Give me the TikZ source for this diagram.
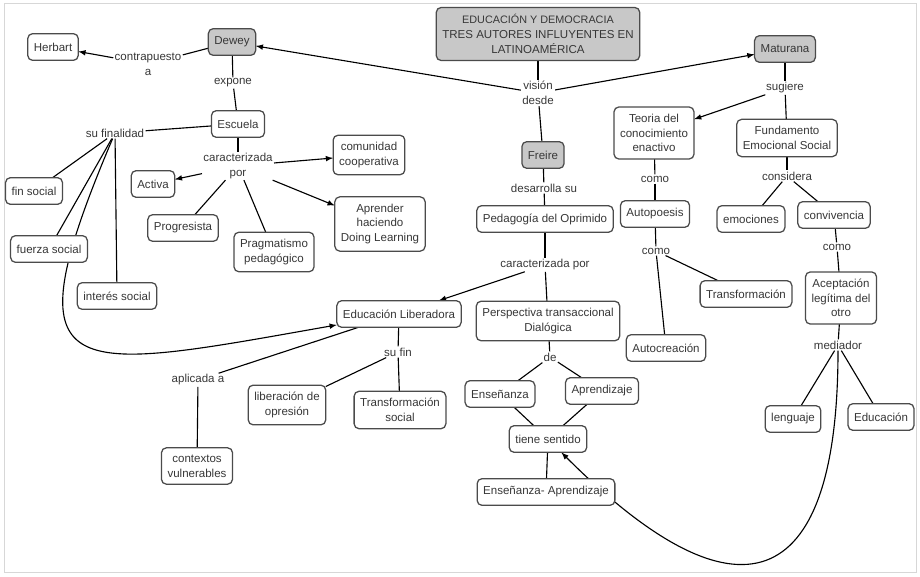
\documentclass[tikz,border=0pt]{standalone}
\usepackage{fontspec}
\setmainfont{Liberation Sans}
\usepackage{tkz-graph}
\pgfdeclarelayer{background}
\pgfsetlayers{background,main}
\definecolor{boxgray}{RGB}{200,200,200}
\definecolor{inkgray}{RGB}{55,55,55}
\definecolor{edgegray}{RGB}{75,75,75}
\definecolor{framegray}{RGB}{215,215,215}

\begin{document}
\begin{tikzpicture}[x = 0.025cm, y = -0.025cm, >=latex,
                    color = edgegray, text = inkgray, line width = 0.6pt,
                    font = \fontsize{8.2}{10.5}\selectfont]
\useasboundingbox (0,0) rectangle (920,577);
\draw[framegray] (4,3) rectangle (916,572);
% gray concepts
\tikzstyle{VertexStyle}=[shape = rectangle,
                         rounded corners = 3.5pt,
                         fill = boxgray,
                         line width = 0.9pt,
                         inner xsep = 4.3pt,
                         inner ysep = 5pt,
                         minimum height = 19pt,
                         align = center,
                         draw]
\Vertex[x = 538, y = 34, L = {\fontsize{7.7}{10.5}\selectfont EDUCACIÓN Y DEMOCRACIA\\TRES AUTORES INFLUYENTES EN\\LATINOAMÉRICA}]{title}
\Vertex[x = 232, y = 42, L = {Dewey}]{dewey}
\Vertex[x = 785, y = 49, L = {Maturana}]{matu}
\Vertex[x = 543, y = 155, L = {Freire}]{freire}
% white concepts
\tikzstyle{VertexStyle}=[shape = rectangle,
                         rounded corners = 3.5pt,
                         fill = white,
                         line width = 0.9pt,
                         inner xsep = 4.3pt,
                         inner ysep = 5pt,
                         minimum height = 19pt,
                         align = center,
                         draw]
\Vertex[x = 53, y = 47, L = {Herbart}]{herb}
\Vertex[x = 238, y = 124, L = {Escuela}]{esc}
\Vertex[x = 369, y = 155, L = {comunidad\\cooperativa}]{comu}
\Vertex[x = 153, y = 184, L = {Activa}]{activa}
\Vertex[x = 34, y = 191, L = {fin social}]{fin}
\Vertex[x = 183, y = 228, L = {Progresista}]{progre}
\Vertex[x = 274, y = 252, L = {Pragmatismo\\pedagógico}]{pragma}
\Vertex[x = 380, y = 224, L = {Aprender\\haciendo\\Doing Learning}]{aprender}
\Vertex[x = 49, y = 249, L = {fuerza social}]{fuerza}
\Vertex[x = 117, y = 296, L = {interés social}]{interes}
\Vertex[x = 399, y = 314, L = {Educación Liberadora}]{edlib}
\Vertex[x = 287, y = 405, L = {liberación de\\opresión}]{libera}
\Vertex[x = 400, y = 410, L = {Transformación\\social}]{transoc}
\Vertex[x = 197, y = 466, L = {contextos\\vulnerables}]{contex}
\Vertex[x = 545, y = 219, L = {Pedagogía del Oprimido}]{pedag}
\Vertex[x = 548, y = 321, L = {Perspectiva transaccional\\Dialógica}]{persp}
\Vertex[x = 500, y = 394, L = {Enseñanza}]{ense}
\Vertex[x = 602, y = 391, L = {Aprendizaje}]{apren}
\Vertex[x = 548, y = 439, L = {tiene sentido}]{tiene}
\Vertex[x = 546, y = 492, L = {Enseñanza- Aprendizaje}]{ensapr}
\Vertex[x = 654, y = 133, L = {Teoria del\\conocimiento\\enactivo}]{teoria}
\Vertex[x = 655, y = 214, L = {Autopoesis}]{autop}
\Vertex[x = 746, y = 294, L = {Transformación}]{transf}
\Vertex[x = 666, y = 348, L = {Autocreación}]{autocr}
\Vertex[x = 787, y = 138, L = {Fundamento\\Emocional Social}]{fund}
\Vertex[x = 751, y = 219, L = {emociones}]{emoc}
\Vertex[x = 834, y = 215, L = {convivencia}]{conviv}
\Vertex[x = 841, y = 298, L = {Aceptación\\legítima del\\otro}]{acept}
\Vertex[x = 793, y = 419, L = {lenguaje}]{leng}
\Vertex[x = 881, y = 417, L = {Educación}]{educ}
% linking phrases
\tikzstyle{VertexStyle}=[shape = rectangle,
                         inner sep = 1pt,
                         align = center]
\Vertex[x = 148, y = 64, L = {contrapuesto\\a}]{lContra}
\Vertex[x = 233, y = 83, L = {expone}]{lExpone}
\Vertex[x = 115, y = 133, L = {su finalidad}]{lFinal}
\Vertex[x = 238, y = 166, L = {caracterizada\\por}]{lCarac}
\Vertex[x = 538, y = 93, L = {visión\\desde}]{lVision}
\Vertex[x = 544, y = 188, L = {desarrolla su}]{lDesarr}
\Vertex[x = 545, y = 265, L = {caracterizada por}]{lCaracF}
\Vertex[x = 398, y = 352, L = {su fin}]{lSufin}
\Vertex[x = 198, y = 380, L = {aplicada a}]{lAplic}
\Vertex[x = 550, y = 357, L = {de}]{lDe}
\Vertex[x = 655, y = 179, L = {como}]{lComo1}
\Vertex[x = 656, y = 251, L = {como}]{lComo2}
\Vertex[x = 785, y = 88, L = {sugiere}]{lSugiere}
\Vertex[x = 787, y = 176, L = {considera}]{lConsid}
\Vertex[x = 837, y = 247, L = {como}]{lComo3}
\Vertex[x = 838, y = 345, L = {mediador}]{lMediad}
\begin{pgfonlayer}{background}
% Dewey
\tikzstyle{EdgeStyle}=[]
\Edge[](dewey)(lContra)
\tikzstyle{EdgeStyle}=[->]
\Edge[](lContra)(herb)
\tikzstyle{EdgeStyle}=[]
\Edge[](dewey)(lExpone)
\tikzstyle{EdgeStyle}=[]
\Edge[](lExpone)(esc)
\tikzstyle{EdgeStyle}=[]
\Edge[](esc)(lFinal)
\tikzstyle{EdgeStyle}=[]
\Edge[](lFinal)(fin)
\tikzstyle{EdgeStyle}=[]
\Edge[](lFinal)(fuerza)
\tikzstyle{EdgeStyle}=[]
\Edge[](lFinal)(interes)
\tikzstyle{EdgeStyle}=[->, out = -113, in = 190, looseness = 2.4]
\Edge[](lFinal)(edlib)
\tikzstyle{EdgeStyle}=[]
\Edge[](esc)(lCarac)
\tikzstyle{EdgeStyle}=[->]
\Edge[](lCarac)(comu)
\tikzstyle{EdgeStyle}=[->]
\Edge[](lCarac)(activa)
\tikzstyle{EdgeStyle}=[]
\Edge[](lCarac)(progre)
\tikzstyle{EdgeStyle}=[]
\Edge[](lCarac)(pragma)
\tikzstyle{EdgeStyle}=[->]
\Edge[](lCarac)(aprender)
% title
\tikzstyle{EdgeStyle}=[]
\Edge[](title)(lVision)
\tikzstyle{EdgeStyle}=[->]
\Edge[](lVision)(dewey)
\tikzstyle{EdgeStyle}=[->]
\Edge[](lVision)(matu)
\tikzstyle{EdgeStyle}=[]
\Edge[](lVision)(freire)
% Freire
\tikzstyle{EdgeStyle}=[]
\Edge[](freire)(lDesarr)
\tikzstyle{EdgeStyle}=[]
\Edge[](lDesarr)(pedag)
\tikzstyle{EdgeStyle}=[]
\Edge[](pedag)(lCaracF)
\tikzstyle{EdgeStyle}=[->]
\Edge[](lCaracF)(edlib)
\tikzstyle{EdgeStyle}=[]
\Edge[](lCaracF)(persp)
\tikzstyle{EdgeStyle}=[]
\Edge[](edlib)(lSufin)
\tikzstyle{EdgeStyle}=[]
\Edge[](lSufin)(libera)
\tikzstyle{EdgeStyle}=[]
\Edge[](lSufin)(transoc)
\tikzstyle{EdgeStyle}=[]
\Edge[](edlib)(lAplic)
\tikzstyle{EdgeStyle}=[]
\Edge[](lAplic)(contex)
\tikzstyle{EdgeStyle}=[]
\Edge[](persp)(lDe)
\tikzstyle{EdgeStyle}=[]
\Edge[](lDe)(ense)
\tikzstyle{EdgeStyle}=[]
\Edge[](lDe)(apren)
\tikzstyle{EdgeStyle}=[]
\Edge[](ense)(tiene)
\tikzstyle{EdgeStyle}=[]
\Edge[](apren)(tiene)
\tikzstyle{EdgeStyle}=[]
\Edge[](tiene)(ensapr)
% Maturana
\tikzstyle{EdgeStyle}=[]
\Edge[](matu)(lSugiere)
\tikzstyle{EdgeStyle}=[->]
\Edge[](lSugiere)(teoria)
\tikzstyle{EdgeStyle}=[]
\Edge[](lSugiere)(fund)
\tikzstyle{EdgeStyle}=[]
\Edge[](teoria)(lComo1)
\tikzstyle{EdgeStyle}=[]
\Edge[](lComo1)(autop)
\tikzstyle{EdgeStyle}=[]
\Edge[](autop)(lComo2)
\tikzstyle{EdgeStyle}=[]
\Edge[](lComo2)(transf)
\tikzstyle{EdgeStyle}=[]
\Edge[](lComo2)(autocr)
\tikzstyle{EdgeStyle}=[]
\Edge[](fund)(lConsid)
\tikzstyle{EdgeStyle}=[]
\Edge[](lConsid)(emoc)
\tikzstyle{EdgeStyle}=[]
\Edge[](lConsid)(conviv)
\tikzstyle{EdgeStyle}=[]
\Edge[](conviv)(lComo3)
\tikzstyle{EdgeStyle}=[]
\Edge[](lComo3)(acept)
\tikzstyle{EdgeStyle}=[]
\Edge[](acept)(lMediad)
\tikzstyle{EdgeStyle}=[]
\Edge[](lMediad)(leng)
\tikzstyle{EdgeStyle}=[]
\Edge[](lMediad)(educ)
\tikzstyle{EdgeStyle}=[->, out = -90, in = -45, looseness = 2.15]
\Edge[](lMediad)(tiene)
\end{pgfonlayer}
\end{tikzpicture}
\end{document}
